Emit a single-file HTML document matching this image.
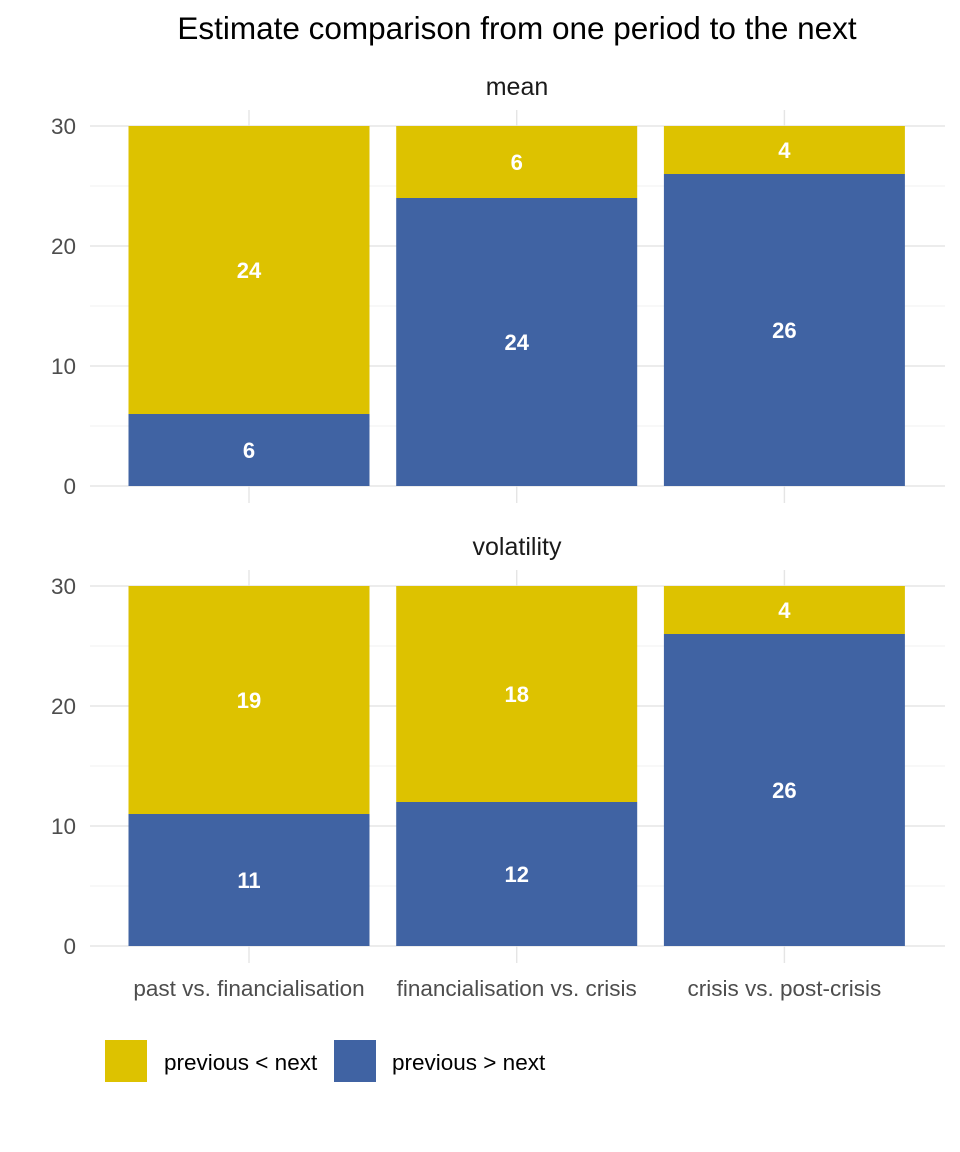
<!DOCTYPE html>
<html><head><meta charset="utf-8"><style>
body{margin:0;background:#fff;}
svg{display:block;font-family:"Liberation Sans",Arial,sans-serif;}
</style></head><body>
<svg id="c" width="960" height="1152"></svg>
<script>
const categories=["past vs. financialisation","financialisation vs. crisis","crisis vs. post-crisis"];
const panels=["mean","volatility"];
const meanGreater=[6,24,26];
const meanLess=[24,6,4];
const volGreater=[11,12,26];
const volLess=[19,18,4];
const yTicks=[0,10,20,30];
const minorTicks=[5,15,25];
const seriesNames=["previous < next","previous > next"];
const GOLD="#DDC200",BLUE="#4063A3";
const svg=document.getElementById('c');
const NS="http://www.w3.org/2000/svg";
function mk(t,a,p){const e=document.createElementNS(NS,t);for(const k in a)e.setAttribute(k,a[k]);(p||svg).appendChild(e);return e;}
const xLeft=90,xRight=945,step=267.7,x0=249,bw=241;
function xC(i){return x0+i*step;}
const bases=[486,946];
function yS(p,v){return bases[p]-v*12;}
let t=mk('text',{x:517,y:39,'text-anchor':'middle','font-size':31.5,fill:'#000'});
t.textContent="Estimate comparison from one period to the next";


const data=[[meanGreater,meanLess],[volGreater,volLess]];
panels.forEach((pn,p)=>{
 const g=mk('g',{});
 
 
 const top=yS(p,30)-16,bot=bases[p]+17;
 let s=mk('text',{x:517,y:yS(p,30)-31,'text-anchor':'middle','font-size':25,fill:'#1a1a1a'},g);
 s.textContent=pn;
 
 
 minorTicks.forEach(v=>{mk('line',{x1:xLeft,x2:xRight,y1:yS(p,v),y2:yS(p,v),stroke:'#f0f0f0','stroke-width':1},g);});
 yTicks.forEach(v=>{
  mk('line',{x1:xLeft,x2:xRight,y1:yS(p,v),y2:yS(p,v),stroke:'#e5e5e5','stroke-width':1.4},g);
  let l=mk('text',{x:76,y:yS(p,v)+8,'text-anchor':'end','font-size':22.5,fill:'#4d4d4d'},g);
  l.textContent=v;
  
  
 });
 categories.forEach((c,i)=>{mk('line',{x1:xC(i),x2:xC(i),y1:top,y2:bot,stroke:'#e5e5e5','stroke-width':1.4},g);});
 categories.forEach((c,i)=>{
  const gr=data[p][0][i],ls=data[p][1][i];
  let b=mk('rect',{x:xC(i)-bw/2,y:yS(p,gr),width:bw,height:gr*12,fill:BLUE},g);
  
  
  let b2=mk('rect',{x:xC(i)-bw/2,y:yS(p,gr+ls),width:bw,height:ls*12,fill:GOLD},g);
  
  
  [[gr,gr/2],[ls,gr+ls/2]].forEach(([v,m])=>{
   let tl=mk('text',{x:xC(i),y:yS(p,m)+8,'text-anchor':'middle','font-size':22,'font-weight':'bold',fill:'#fff'},g);
   tl.textContent=v;
   
   
  });
 });
});
categories.forEach((c,i)=>{
 let l=mk('text',{x:xC(i),y:996,'text-anchor':'middle','font-size':22.5,fill:'#4d4d4d'});
 l.textContent=c;
 
 
});
const lg=mk('g',{});


[[105,164,GOLD],[334,392,BLUE]].forEach(([kx,tx,col],i)=>{
 let r=mk('rect',{x:kx,y:1040,width:42,height:42,fill:col},lg);
 
 
 let tt=mk('text',{x:tx,y:1070,'font-size':22.5,fill:'#000'},lg);
 tt.textContent=seriesNames[i];
 
 
});
</script>
</body></html>
